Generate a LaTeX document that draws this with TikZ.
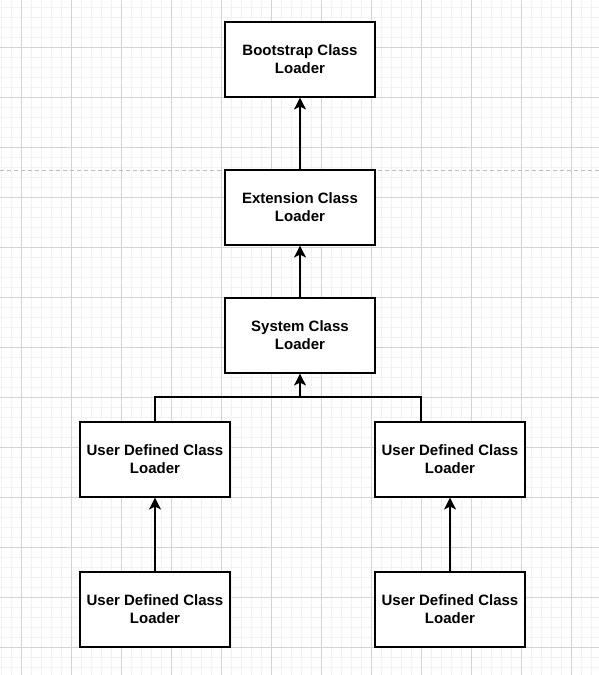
\documentclass[tikz,border=0pt]{standalone}
\usepackage{fontspec}
\setmainfont{Liberation Sans}
\usetikzlibrary{arrows.meta,positioning,backgrounds}

\begin{document}
\begin{tikzpicture}[x=1pt,y=-1pt,
  loader/.style={draw, line width=1.1pt, fill=white, minimum width=150pt, minimum height=75pt, inner sep=0pt, align=center, font=\fontsize{15}{18}\selectfont\bfseries},
  link/.style={line width=1.1pt, -{Stealth[length=12pt,width=12pt,inset=3pt]}},
  wire/.style={line width=1.1pt}]
  \useasboundingbox (0,0) rectangle (599,675);
  % background grid
  \draw[black!5, line width=0.8pt, shift={(1.3,7.3)}] (-20,-20) grid[step=10pt] (620,690);
  \draw[black!17, line width=0.8pt, shift={(21.3,47.3)}] (-60,-60) grid[step=50pt] (620,690);
  \draw[black!25, line width=0.9pt, dash pattern=on 4pt off 3pt] (0,170) -- (599,170);

  \node (Boot) [loader] at (300,59.5) {Bootstrap Class\\Loader};
  \node (Ext) [loader] at (300,207.5) {Extension Class\\Loader};
  \node (Sys) [loader] at (300,335.5) {System Class\\Loader};
  \node (UserL) [loader] at (155,459.5) {User Defined Class\\Loader};
  \node (UserR) [loader] at (450,459.5) {User Defined Class\\Loader};
  \node (BotL) [loader] at (155,609.5) {User Defined Class\\Loader};
  \node (BotR) [loader] at (450,609.5) {User Defined Class\\Loader};
  \coordinate (join) at (300,397);
  \coordinate (UserRtop) at ([xshift=-29pt]UserR.north);

  \draw[link] (Ext) -- (Boot);
  \draw[link] (Sys) -- (Ext);
  \draw[wire] (UserL.north) |- (join);
  \draw[wire] (UserRtop) |- (join);
  \draw[link] (join) -- (Sys);
  \draw[link] (BotL) -- (UserL);
  \draw[link] (BotR) -- (UserR);
\end{tikzpicture}
\end{document}
